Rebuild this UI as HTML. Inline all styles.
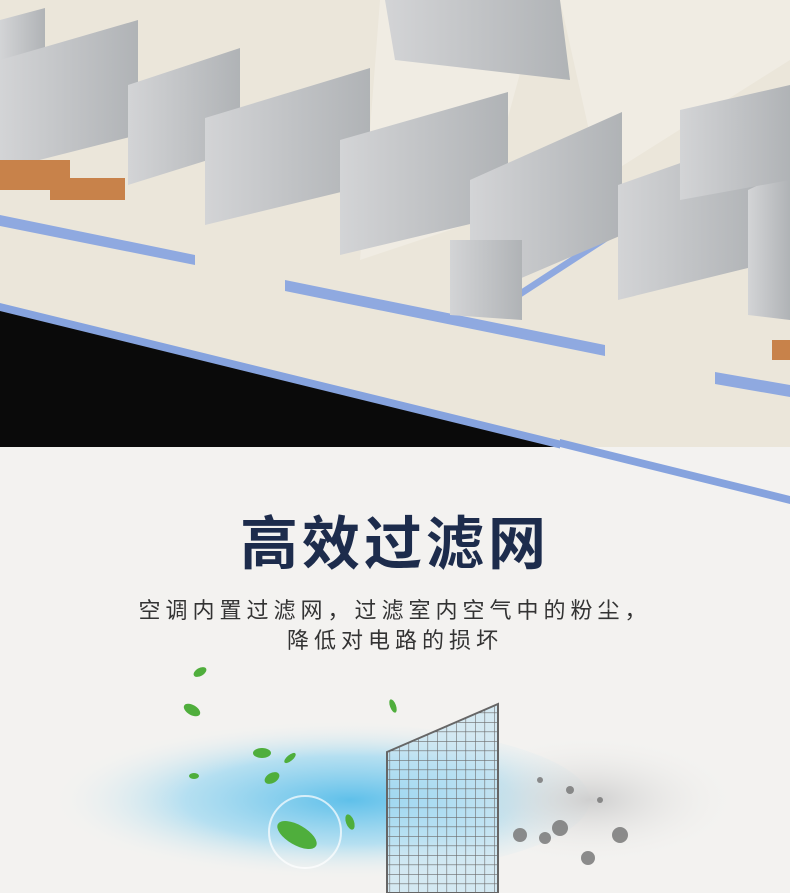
<!DOCTYPE html>
<html><head><meta charset="utf-8"><style>
html,body{margin:0;padding:0;width:790px;height:893px;overflow:hidden;background:#f3f2f0;}
.t{position:absolute;left:0;width:790px;text-align:center;font-family:"Liberation Sans","Noto Sans CJK SC",sans-serif;}
</style></head><body>
<svg width="790" height="893" style="position:absolute;left:0;top:0">
<defs>
<linearGradient id="cab" x1="0" x2="1"><stop offset="0" stop-color="#d3d4d6"/><stop offset="1" stop-color="#b0b3b6"/></linearGradient>
<radialGradient id="blue" cx="0.6" cy="0.5" r="0.5"><stop offset="0" stop-color="#5fc0ea"/><stop offset="0.55" stop-color="#aadcf1" stop-opacity="0.85"/><stop offset="1" stop-color="#f3f2f0" stop-opacity="0"/></radialGradient>
<radialGradient id="grey" cx="0.5" cy="0.5" r="0.5"><stop offset="0" stop-color="#cfcfcf"/><stop offset="1" stop-color="#f3f2f0" stop-opacity="0"/></radialGradient>
<pattern id="grid" width="9.5" height="9.5" patternUnits="userSpaceOnUse"><path d="M0 0H9.5M0 0V9.5" stroke="#6b6b6b" stroke-width="1.2" fill="none"/></pattern>
</defs>
<rect x="0" y="0" width="790" height="447" fill="#0a0a0a"/>
<polygon points="0,0 790,0 790,500 0,305" fill="#ebe6da"/>
<polygon points="0,303 790,497 790,505 0,311" fill="#86a3de"/>
<rect x="560" y="447" width="230" height="60" fill="#f3f2f0"/>
<polygon points="560,439 790,496 790,504 560,447" fill="#86a3de"/>
<polygon points="0,215 195,255 195,265 0,226" fill="#8fa9e0"/>
<polygon points="285,280 605,345 605,356 285,291" fill="#8fa9e0"/>
<polygon points="715,372 790,385 790,397 715,384" fill="#8fa9e0"/>
<polygon points="520,290 620,225 620,233 520,298" fill="#8fa9e0"/>
<polygon points="380,0 540,0 480,220 360,260" fill="#fff" opacity="0.25"/>
<polygon points="560,0 790,0 790,60 600,180" fill="#fff" opacity="0.25"/>
<g fill="url(#cab)">
<polygon points="0,20 45,8 45,60 0,70"/>
<polygon points="0,60 138,20 138,135 0,170"/>
<polygon points="128,85 240,48 240,150 128,185"/>
<polygon points="205,118 370,68 370,185 205,225"/>
<polygon points="340,140 508,92 508,215 340,255"/>
<polygon points="470,180 622,112 622,235 470,300"/>
<polygon points="450,240 522,240 522,320 450,315"/>
<polygon points="618,185 760,135 760,265 618,300"/>
<polygon points="748,190 790,170 790,320 748,315"/>
<polygon points="385,0 560,0 570,80 395,60"/>
<polygon points="680,110 790,85 790,180 680,200"/>
</g>
<rect x="0" y="160" width="70" height="30" fill="#c8824a"/>
<rect x="50" y="178" width="75" height="22" fill="#c8824a"/>
<rect x="772" y="340" width="18" height="20" fill="#c8824a"/>
<ellipse cx="290" cy="800" rx="300" ry="80" fill="url(#blue)"/>
<ellipse cx="590" cy="800" rx="150" ry="65" fill="url(#grey)"/>
<g fill="#7a7a7a" opacity="0.85"><circle cx="520" cy="835" r="7"/><circle cx="545" cy="838" r="6"/><circle cx="560" cy="828" r="8"/><circle cx="588" cy="858" r="7"/><circle cx="620" cy="835" r="8"/><circle cx="540" cy="780" r="3"/><circle cx="570" cy="790" r="4"/><circle cx="600" cy="800" r="3"/></g>
<polygon points="387,752 498,704 498,893 387,893" fill="#bfe3f3" opacity="0.6"/>
<polygon points="387,752 498,704 498,893 387,893" fill="url(#grid)"/>
<polygon points="387,752 498,704 498,893 387,893" fill="none" stroke="#666" stroke-width="2"/>
<g fill="#4fae3c"><ellipse cx="200" cy="672" rx="7" ry="4" transform="rotate(-30 200 672)"/><ellipse cx="192" cy="710" rx="9" ry="5" transform="rotate(30 192 710)"/><ellipse cx="393" cy="706" rx="3" ry="7" transform="rotate(-20 393 706)"/><ellipse cx="262" cy="753" rx="9" ry="5"/><ellipse cx="290" cy="758" rx="7" ry="3" transform="rotate(-40 290 758)"/><ellipse cx="272" cy="778" rx="8" ry="5" transform="rotate(-30 272 778)"/><ellipse cx="297" cy="835" rx="22" ry="10" transform="rotate(30 297 835)"/><ellipse cx="350" cy="822" rx="4" ry="8" transform="rotate(-20 350 822)"/><ellipse cx="194" cy="776" rx="5" ry="3"/></g>
<circle cx="305" cy="832" r="36" fill="none" stroke="#fff" stroke-width="2" opacity="0.7"/>
</svg>
<div class="t" style="top:497px;font-size:58px;font-weight:bold;color:#1d2c4c;letter-spacing:4px;">高效过滤网</div>
<div class="t" style="top:596px;font-size:22px;color:#333;line-height:30px;letter-spacing:5px;">空调内置过滤网，过滤室内空气中的粉尘，<br>降低对电路的损坏</div>
</body></html>
